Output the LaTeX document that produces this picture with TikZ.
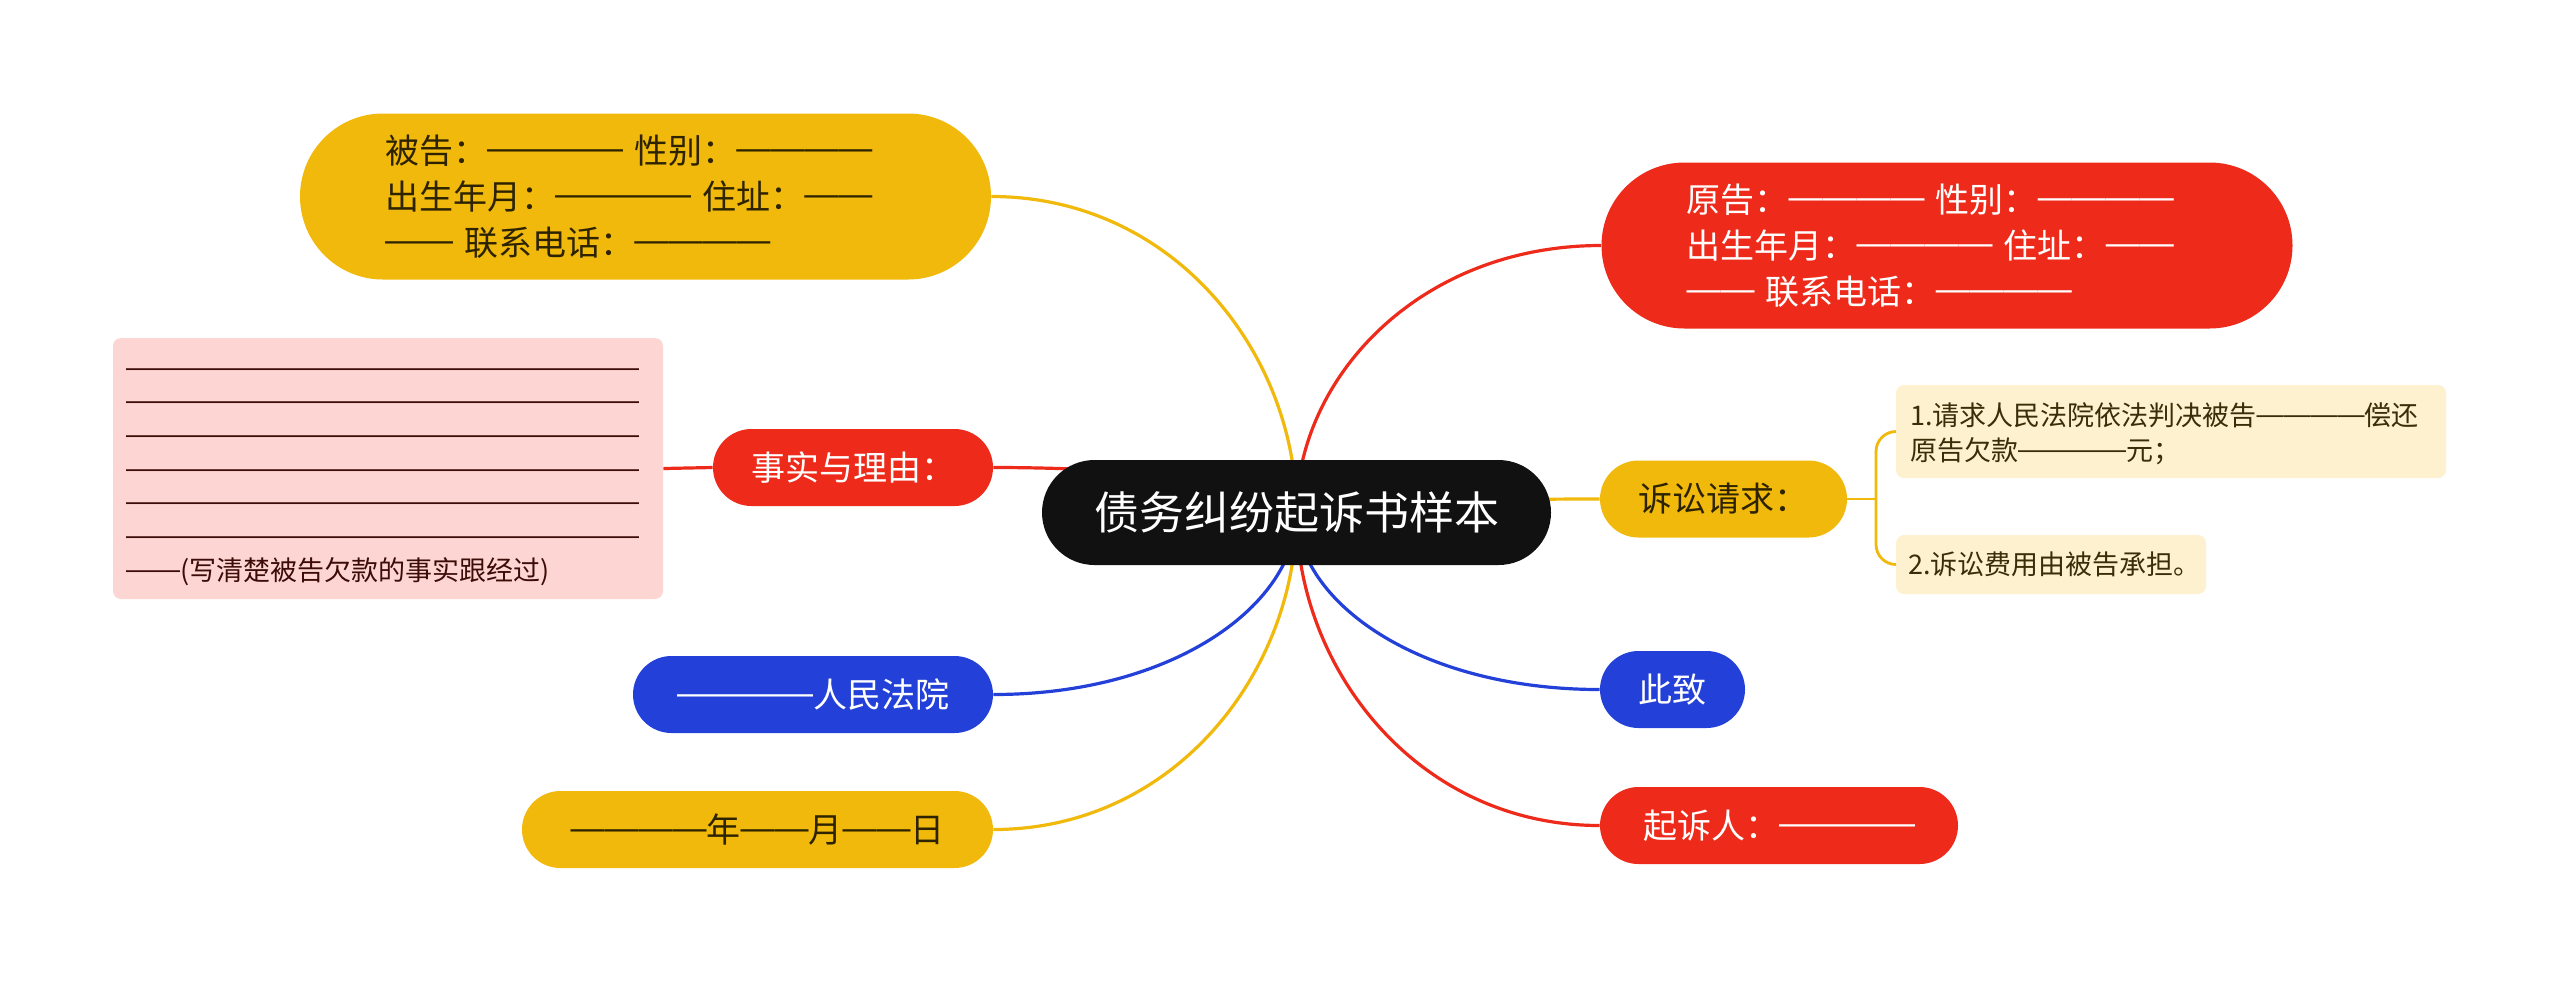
\documentclass[tikz,border=0pt]{standalone}
\usepackage{fontspec}
\setmainfont{Noto Sans CJK SC}
\newfontfamily\dashfont{Liberation Sans}
\newcommand\dd[1]{\raisebox{0.1em}{\dashfont #1}}
\usetikzlibrary{calc}
\pgfdeclarelayer{bg}
\pgfsetlayers{bg,main}
\definecolor{cy}{HTML}{F0B90B}
\definecolor{cr}{HTML}{EE2A1A}
\definecolor{cb}{HTML}{2340D8}
\definecolor{ck}{HTML}{111111}
\definecolor{cpink}{HTML}{FDD6D3}
\definecolor{clight}{HTML}{FDF1CF}
\definecolor{tdark}{HTML}{2E2300}
\definecolor{tpink}{HTML}{3E0C08}
\definecolor{tsub}{HTML}{3A2E08}
\newcommand\mybranch[2]{\draw[#1] (root.center) .. controls ($(root.center)!0.5!(root.center|-#2)$) and ($(#2)!0.6!(root.center|-#2)$) .. (#2);}
\begin{document}
\begin{tikzpicture}[x=0.5pt,y=-0.5pt,
  pill/.style={rectangle, inner sep=0pt, minimum height=38.5pt, rounded corners=19.25pt, font=\fontsize{17}{23}\selectfont, align=center},
  bigpill/.style={rectangle, inner sep=0pt, minimum width=345.5pt, minimum height=83pt, rounded corners=41.5pt, text width=260.5pt, align=left, font=\fontsize{17}{23}\selectfont},
  subbox/.style={rectangle, inner sep=0pt, rounded corners=4pt, align=left, fill=clight, text=tsub},
  lyel/.style={draw=cy, line width=1.6pt},
  lred/.style={draw=cr, line width=1.6pt},
  lblue/.style={draw=cb, line width=1.6pt},
  lthin/.style={draw=cy, line width=1.4pt}
]
\useasboundingbox (0,0) rectangle (2560,982);

% root
\node[pill, fill=ck, text=white, minimum width=254.5pt, minimum height=52.5pt, rounded corners=26.25pt, font=\fontsize{22.5}{27}\selectfont] (root) at (1296.5,512.5) {债务纠纷起诉书样本};

% big nodes
\node[bigpill, fill=cy, text=tdark] (bgao) at (645.5,196.5) {被告：\dd{————} 性别：\dd{————}\\出生年月：\dd{————} 住址：\dd{——}\\\dd{——} 联系电话：\dd{————}};
\node[bigpill, fill=cr, text=white] (ygao) at (1947,245.5) {原告：\dd{————} 性别：\dd{————}\\出生年月：\dd{————} 住址：\dd{——}\\\dd{——} 联系电话：\dd{————}};

% single-line main nodes
\node[pill, fill=cr, text=white, minimum width=140pt] (sy) at (853,467.5) {事实与理由：};
\node[pill, fill=cy, text=tdark, minimum width=123.5pt] (ss) at (1723.5,499) {诉讼请求：};
\node[pill, fill=cb, text=white, minimum width=72.5pt] (cz) at (1672.5,689.5) {此致};
\node[pill, fill=cr, text=white, minimum width=179pt] (qs) at (1779,825.5) {起诉人：\dd{————}};
\node[pill, fill=cb, text=white, minimum width=180pt] (fy) at (813,694.5) {\dd{————}人民法院};
\node[pill, fill=cy, text=tdark, minimum width=235.5pt] (rq) at (757.5,829.5) {\dd{————}年\dd{——}月\dd{——}日};

% pink fact box
\node[rectangle, inner sep=0pt, rounded corners=4pt, fill=cpink, text=tpink, minimum width=275pt, minimum height=130.5pt, text width=262pt, align=left, font=\fontsize{13.5}{16.85}\selectfont] (fact) at (388,468.5) {\rule{0pt}{14pt}\dd{———————————————————}\\\dd{———————————————————}\\\dd{———————————————————}\\\dd{———————————————————}\\\dd{———————————————————}\\\dd{———————————————————}\\\dd{——}(写清楚被告欠款的事实跟经过)};

% sub nodes
\node[subbox, minimum width=275pt, minimum height=46.5pt, text width=261pt, font=\fontsize{13.5}{17.5}\selectfont] (s1) at (2171,431.5) {\rule{0pt}{14pt}1.请求人民法院依法判决被告\dd{————}偿还\\原告欠款\dd{————}元；};
\node[subbox, minimum width=155pt, minimum height=29.5pt, text width=143pt, font=\fontsize{13.5}{17.5}\selectfont] (s2) at (2051,564.5) {2.诉讼费用由被告承担。};

\coordinate (brk) at (1876,499);

\begin{pgfonlayer}{bg}
\fill[white] (0,0) rectangle (2560,982);
\mybranch{lyel}{bgao.east}
\mybranch{lred}{ygao.west}
\mybranch{lred}{sy.east}
\mybranch{lyel}{ss.west}
\mybranch{lblue}{cz.west}
\mybranch{lred}{qs.west}
\mybranch{lblue}{fy.east}
\mybranch{lyel}{rq.east}
\draw[lred] (sy.west) -- (fact.east);
\draw[lthin] (ss.east) -- (brk);
\draw[lthin, rounded corners=10pt] (brk) |- (s1.west);
\draw[lthin, rounded corners=10pt] (brk) |- (s2.west);
\end{pgfonlayer}
\end{tikzpicture}
\end{document}
